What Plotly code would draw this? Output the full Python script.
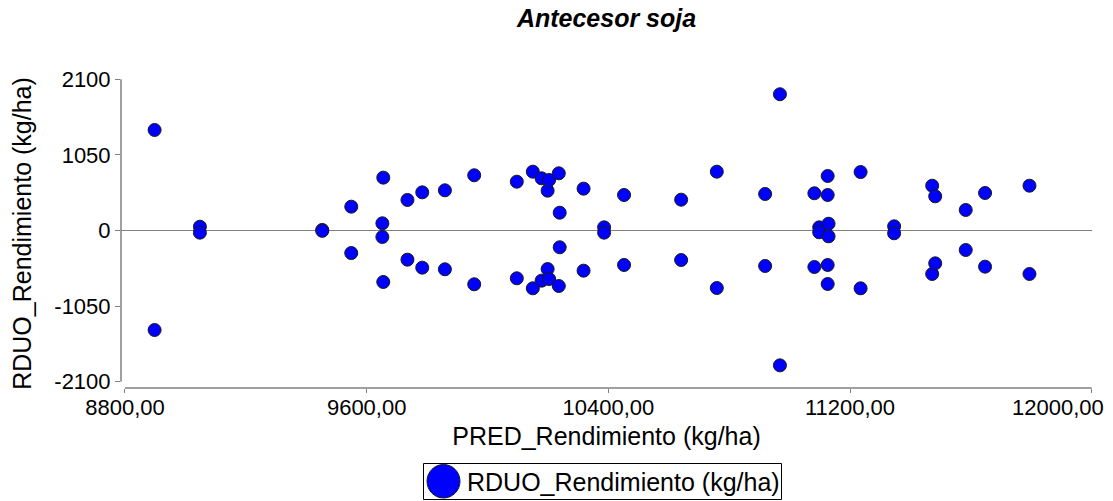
import plotly.graph_objects as go

# Predicted yield (x) and residuals (y)
pred = [8898, 8898, 9048, 9048, 9453, 9453, 9549, 9549, 9652, 9652,
        9655, 9655, 9735, 9735, 9784, 9784, 9859, 9859, 9956, 9956,
        10097, 10097, 10150, 10150, 10179, 10179, 10199, 10199, 10204, 10204,
        10236, 10236, 10239, 10239, 10318, 10318, 10386, 10386, 10452, 10452,
        10641, 10641, 10759, 10759, 10919, 10919, 10968, 10968, 11082, 11082,
        11098, 11098, 11126, 11126, 11126, 11126, 11129, 11129, 11235, 11235,
        11346, 11346, 11472, 11472, 11482, 11482, 11583, 11583, 11647, 11647,
        11794, 11794]
rduo = [1396, -1382, 53, -30, 8, -5, 331, -313, 100, -90,
        734, -715, 424, -405, 530, -516, 558, -539, 767, -747,
        678, -664, 817, -803, 725, -697, 553, -535, 701, -674,
        794, -771, 247, -233, 581, -558, 44, -30, 493, -479,
        428, -410, 817, -799, 507, -493, 1892, -1873, 517, -507,
        44, -25, 757, -743, 493, -479, 94, -81, 812, -803,
        58, -39, 622, -604, 475, -456, 285, -271, 521, -502,
        622, -604]

x_ticks = [8800, 9600, 10400, 11200, 12000]
x_ticktext = ["8800,00", "9600,00", "10400,00", "11200,00", "12000,00"]
y_ticks = [-2100, -1050, 0, 1050, 2100]
y_ticktext = ["-2100", "-1050", "0", "1050", "2100"]
series_name = "RDUO_Rendimiento (kg/ha)"

FONT = "Arial, Liberation Sans, sans-serif"
AXIS_GRAY = "#808080"

# the last label is drawn pushed inward (as in the original) so it stays inside the page
x_ticktext_shown = x_ticktext[:-1] + [""]

fig = go.Figure()
fig.add_trace(go.Scatter(
    x=pred, y=rduo, mode="markers",
    name=series_name, showlegend=False,
    marker=dict(size=13, color="#0000FF", line=dict(color="#1a1a1a", width=1)),
))

W, H = 1113, 501
ml, mr, mt, mb = 121, 21, 79, 113
pw = W - ml - mr
ph = H - mt - mb

def px_to_paper_x(px):
    return (px - ml) / pw

def px_to_paper_y(py):
    return (H - mb - py) / ph

fig.update_layout(
    width=W, height=H,
    margin=dict(l=ml, r=mr, t=mt, b=mb, autoexpand=False),
    paper_bgcolor="white", plot_bgcolor="white",
    font=dict(family=FONT, color="black"),
    title=dict(text="Antecesor soja", x=0.5, xref="paper", xanchor="center",
               y=1 - 18 / H, yref="container", yanchor="middle",
               font=dict(size=25, weight="bold", style="italic", family=FONT)),
    showlegend=False,
    xaxis=dict(range=[8786.8, 12001], tickvals=x_ticks, ticktext=x_ticktext_shown,
               showgrid=False, zeroline=False, showline=False,
               ticks="outside", ticklen=4, tickcolor=AXIS_GRAY,
               ticklabelstandoff=-4,
               tickfont=dict(size=22, family=FONT),
               title=dict(text="PRED_Rendimiento (kg/ha)", font=dict(size=25, family=FONT), standoff=8)),
    yaxis=dict(range=[-2187.5, 2104], tickvals=y_ticks, ticktext=y_ticktext,
               showgrid=False, zeroline=True, zerolinecolor=AXIS_GRAY, zerolinewidth=1,
               showline=False, ticks="outside", ticklen=5, tickcolor=AXIS_GRAY,
               tickfont=dict(size=22, family=FONT),
               title=dict(text="RDUO_Rendimiento (kg/ha)", font=dict(size=25, family=FONT), standoff=15)),
    shapes=[
        # detached axis lines
        dict(type="line", xref="paper", yref="y", x0=0, x1=0, y0=-2100, y1=2100,
             line=dict(color=AXIS_GRAY, width=1.5), layer="above"),
        dict(type="line", xref="x", yref="paper", x0=8800, x1=12000, y0=0, y1=0,
             line=dict(color=AXIS_GRAY, width=1.5), layer="above"),
        # legend box
        dict(type="rect", xref="paper", yref="paper",
             x0=px_to_paper_x(423.5), x1=px_to_paper_x(781.5),
             y0=px_to_paper_y(499.5), y1=px_to_paper_y(463.5),
             fillcolor="white", line=dict(color="black", width=1), layer="above"),
        # legend symbol
        dict(type="circle", xref="paper", yref="paper",
             x0=px_to_paper_x(427), x1=px_to_paper_x(460),
             y0=px_to_paper_y(498), y1=px_to_paper_y(464.5),
             fillcolor="#0000FF", line=dict(color="#1a1a1a", width=1), layer="above"),
    ],
    annotations=[
        dict(text=series_name, xref="paper", yref="paper",
             x=px_to_paper_x(465), y=px_to_paper_y(481.5),
             xanchor="left", yanchor="middle", showarrow=False,
             font=dict(size=25, family=FONT, color="black")),
        dict(text=x_ticktext[-1], xref="paper", yref="paper",
             x=px_to_paper_x(1058), y=px_to_paper_y(407.5),
             xanchor="center", yanchor="middle", showarrow=False,
             font=dict(size=22, family=FONT, color="black")),
    ],
)

fig.write_html("out.html")
